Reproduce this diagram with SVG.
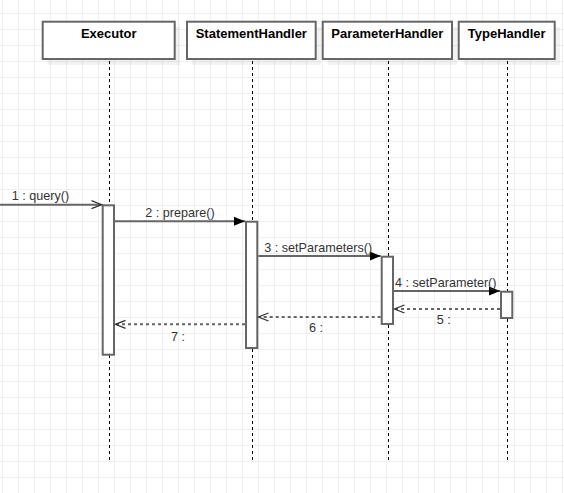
<svg xmlns="http://www.w3.org/2000/svg" width="564" height="493" viewBox="0 0 564 493">
<style>
.box{fill:#fff;stroke:#666;stroke-width:2}
.shadow{fill:#000;opacity:0.05}
.title{font-family:"Liberation Sans",Arial,sans-serif;font-size:13px;font-weight:bold;fill:#000;text-anchor:middle}
.life{stroke:#000;stroke-width:1;stroke-dasharray:3 3;fill:none}
.act{fill:#fff;stroke:#666;stroke-width:2}
.msg{stroke:#666;stroke-width:2;fill:none}
.ret{stroke:#666;stroke-width:2;stroke-dasharray:3 3;fill:none}
.open{stroke:#333;stroke-width:1.3;fill:none}
.lbl{font-family:"Liberation Sans",Arial,sans-serif;font-size:12.6px;fill:#333}
</style>
<defs>
<pattern id="grid" x="2" y="13" width="16" height="16" patternUnits="userSpaceOnUse">
<path d="M0.5 0 V16 M0 0.5 H16" stroke="#f0f0f0" stroke-width="1" fill="none"/>
</pattern>
<marker id="filled" viewBox="0 0 11 9" refX="11" refY="4.5" markerWidth="11" markerHeight="9" markerUnits="userSpaceOnUse" orient="auto">
<path d="M0 0 L11 4.5 L0 9 Z" fill="#000"/>
</marker>
</defs>
<rect width="564" height="493" fill="#fff"/>
<rect width="564" height="493" fill="url(#grid)"/>

<g id="lifelines">
<line class="life" x1="109.5" y1="61" x2="109.5" y2="460"/>
<line class="life" x1="252.5" y1="61" x2="252.5" y2="460"/>
<line class="life" x1="388.5" y1="61" x2="388.5" y2="460"/>
<line class="life" x1="507.5" y1="61" x2="507.5" y2="460"/>
</g>

<g id="executor">
<rect class="shadow" x="48" y="27" width="132" height="38"/>
<rect class="box" x="42.7" y="21.7" width="132" height="37.3"/>
<text class="title" x="108.7" y="37.5">Executor</text>
</g>
<g id="statementhandler">
<rect class="shadow" x="192" y="27" width="129" height="38"/>
<rect class="box" x="187" y="21.7" width="128.7" height="37.3"/>
<text class="title" x="251.3" y="37.5">StatementHandler</text>
</g>
<g id="parameterhandler">
<rect class="shadow" x="328" y="27" width="129" height="38"/>
<rect class="box" x="322.7" y="21.7" width="129.3" height="37.3"/>
<text class="title" x="387.3" y="37.5">ParameterHandler</text>
</g>
<g id="typehandler">
<rect class="shadow" x="464" y="27" width="96" height="38"/>
<rect class="box" x="458.7" y="21.7" width="96" height="37.3"/>
<text class="title" x="506.7" y="37.5">TypeHandler</text>
</g>

<g id="activations">
<rect class="act" x="102.7" y="205.3" width="11.3" height="149.4"/>
<rect class="act" x="246" y="221.7" width="11.3" height="126.3"/>
<rect class="act" x="381.7" y="256.7" width="11.3" height="67.3"/>
<rect class="act" x="501" y="291.7" width="11.3" height="26.3"/>
</g>

<g id="connectors">
<line class="msg" x1="0" y1="204.7" x2="101.5" y2="204.7"/>
<path class="open" d="M91.5 200.7 L101.5 204.7 L91.5 208.7"/>
<line class="msg" x1="115" y1="221.3" x2="245" y2="221.3" marker-end="url(#filled)"/>
<line class="msg" x1="258.3" y1="256" x2="380.7" y2="256" marker-end="url(#filled)"/>
<line class="msg" x1="394" y1="291" x2="500" y2="291" marker-end="url(#filled)"/>
<line class="ret" x1="500" y1="309" x2="395" y2="309"/>
<path class="open" d="M404.5 305 L394.5 309 L404.5 313"/>
<line class="ret" x1="380.7" y1="317" x2="259" y2="317"/>
<path class="open" d="M268.5 313 L258.5 317 L268.5 321"/>
<line class="ret" x1="245" y1="324.3" x2="116" y2="324.3"/>
<path class="open" d="M125.5 320.3 L115.5 324.3 L125.5 328.3"/>
</g>

<g id="labels">
<text class="lbl" x="11.7" y="200">1 : query()</text>
<text class="lbl" x="145.3" y="217">2 : prepare()</text>
<text class="lbl" x="264.3" y="252">3 : setParameters()</text>
<text class="lbl" x="395" y="287">4 : setParameter()</text>
<text class="lbl" x="436.7" y="324">5 :</text>
<text class="lbl" x="309" y="332.3">6 :</text>
<text class="lbl" x="171" y="340.7">7 :</text>
</g>
</svg>
